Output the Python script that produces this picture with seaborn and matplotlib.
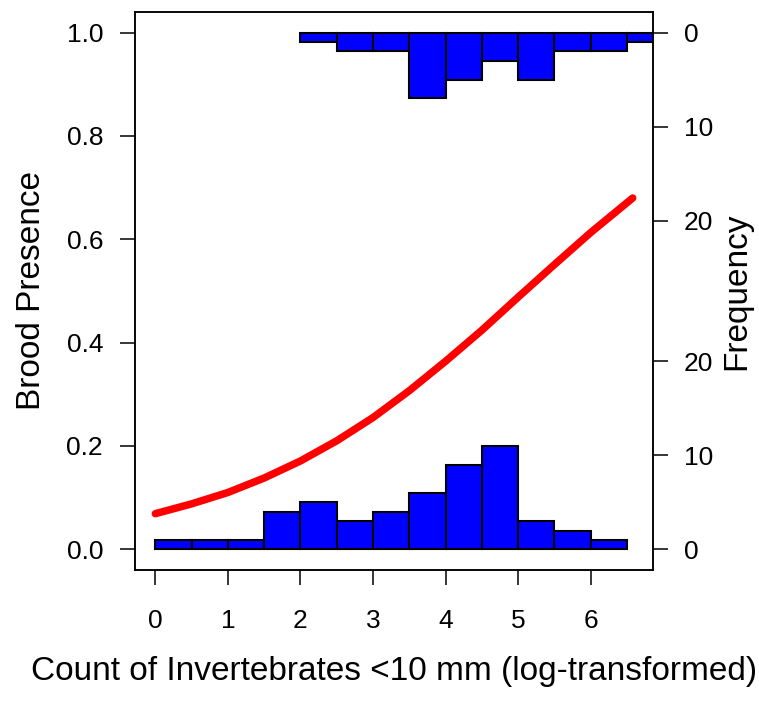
import numpy as np
import pandas as pd
import matplotlib
matplotlib.use('Agg')
import matplotlib.pyplot as plt
import seaborn as sns

# histogram bins (log counts), width 0.5
bottom_edges = [0, 0.5, 1, 1.5, 2, 2.5, 3, 3.5, 4, 4.5, 5, 5.5, 6, 6.5]
bottom_counts = [1, 1, 1, 4, 5, 3, 4, 6, 9, 11, 3, 2, 1]   # brood absent
top_left = [2, 2.5, 3, 3.5, 4, 4.5, 5, 5.5, 6, 6.5]
top_counts = [1, 2, 2, 7, 5, 3, 5, 2, 2, 1]                # brood present

# fitted logistic curve
curve_x = [0, 0.5, 1, 1.5, 2, 2.5, 3, 3.5, 4, 4.5, 5, 5.5, 6, 6.58]
curve_y = [0.069, 0.088, 0.110, 0.138, 0.171, 0.210, 0.255, 0.307,
           0.364, 0.424, 0.488, 0.551, 0.613, 0.680]

freq_ticks = [0, 10, 20]
scale = 0.2 / 11   # counts -> probability units

sns.set_theme(style='white')
plt.rcParams['font.family'] = ['Liberation Sans', 'DejaVu Sans']
plt.rcParams['text.color'] = 'black'
plt.rcParams['axes.labelcolor'] = 'black'

fig = plt.figure(figsize=(7.59, 7.05), dpi=100)
ax = fig.add_axes([0.1779, 0.1915, 0.6825, 0.7915])

# bottom histogram
centers = np.array(bottom_edges[:-1]) + 0.25
sns.histplot(x=centers, weights=np.array(bottom_counts) * scale, bins=bottom_edges,
             color='#0000FF', alpha=1, edgecolor='black', linewidth=1.5, ax=ax)

# top histogram hanging from 1
h = np.array(top_counts) * scale
ax.bar(top_left, h, bottom=1 - h, width=0.5, align='edge',
       color='#0000FF', edgecolor='black', linewidth=1.5)

curve = pd.DataFrame({'x': curve_x, 'y': curve_y})
sns.lineplot(data=curve, x='x', y='y', color='red', linewidth=5.4,
             solid_capstyle='round', ax=ax)

ax.set_xlim(-0.28, 6.86)
ax.set_ylim(-0.04, 1.04)
ax.set_xticks(range(7))
ax.set_yticks([0, 0.2, 0.4, 0.6, 0.8, 1.0])
ax.set_yticklabels(['0.0', '0.2', '0.4', '0.6', '0.8', '1.0'])
ax.set_xlabel('Count of Invertebrates <10 mm (log-transformed)', fontsize=24, labelpad=17)
ax.set_ylabel('Brood Presence', fontsize=24, labelpad=14)
ax.tick_params(axis='both', direction='out', length=11, width=1.1, labelsize=19,
               colors='black', labelcolor='black', bottom=True, left=True)
ax.tick_params(axis='x', pad=17)
ax.tick_params(axis='y', pad=12)
for s in ax.spines.values():
    s.set_visible(True)
    s.set_color('black')
    s.set_linewidth(1.1)

ax2 = ax.twinx()
ax2.set_ylim(ax.get_ylim())
pos = [t * scale for t in freq_ticks] + [1 - t * scale for t in freq_ticks]
ax2.set_yticks(pos)
ax2.set_yticklabels([str(t) for t in freq_ticks] * 2)
ax2.tick_params(axis='y', direction='out', length=11, width=1.1, labelsize=19,
                pad=11, colors='black', labelcolor='black', right=True)
ax2.set_ylabel('Frequency', fontsize=24, labelpad=6)
for s in ax2.spines.values():
    s.set_visible(True)
    s.set_color('black')
    s.set_linewidth(1.1)

fig.savefig('out.png', dpi=100)
